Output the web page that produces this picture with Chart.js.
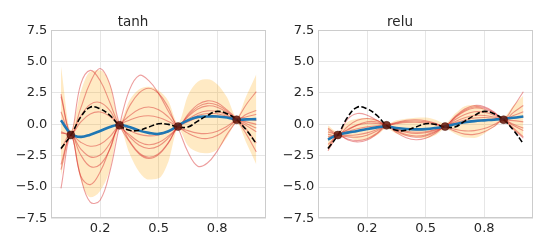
<!DOCTYPE html>
<html>
<head>
<meta charset="utf-8">
<script src="https://cdn.jsdelivr.net/npm/chart.js@4.4.1/dist/chart.umd.min.js"></script>
<style>
  html, body { margin: 0; padding: 0; background: #fff; }
  #wrap { position: relative; width: 548px; height: 249px; }
  canvas { position: absolute; top: 0; }
</style>
</head>
<body>
<div id="wrap">
  <canvas id="tanhChart" width="274" height="249" style="left:0px"></canvas>
  <canvas id="reluChart" width="274" height="249" style="left:267px"></canvas>
</div>
<script>
// x grid of the curves
var xs = [0.083, 0.125, 0.167, 0.208, 0.25, 0.292, 0.333, 0.375, 0.417, 0.458, 0.5,
          0.542, 0.583, 0.625, 0.667, 0.708, 0.75, 0.792, 0.833, 0.875, 0.917];

// observed points (same in both panels)
var obsX = [0.125, 0.333, 0.583, 0.833];
var obsY = [-0.85, -0.08, -0.18, 0.37];

// true function (black dashed)
var trueY = [-1.92, -0.87, 0.58, 1.37, 1.24, 0.71, -0.08, -0.47, -0.47, -0.21, 0.05,
             0.0, -0.21, -0.21, 0.26, 0.71, 1.03, 0.84, 0.37, -0.47, -1.53];

// tanh panel
var tanhMean = [0.32, -0.74, -1.0, -0.82, -0.53, -0.21, -0.03, -0.21, -0.5, -0.68, -0.76,
                -0.55, -0.1, 0.32, 0.58, 0.63, 0.63, 0.55, 0.37, 0.4, 0.42];
var tanhUpper = [4.6, -0.5, 2.6, 4.2, 4.3, 3.2, 0.2, 1.9, 2.8, 3.0, 2.7,
                 1.85, 0.1, 2.3, 3.4, 3.6, 3.2, 2.15, 0.6, 2.3, 4.0];
var tanhLower = [-4.1, -1.0, -4.4, -5.8, -5.3, -3.6, -0.3, -2.3, -3.8, -4.4, -4.3,
                 -2.95, -0.35, -1.7, -2.2, -2.3, -2.0, -1.05, 0.1, -1.5, -3.2];
var tanhSamples = [
  [2.4, -0.7, 3.19, 4.3, 3.49, 1.72, -0.1, -0.82, -1.4, -1.62, -1.45, -0.93, -0.25, 0.6, 1.22, 1.47, 1.37, 0.95, 0.35, -0.1, -0.6],
  [1.0, -0.85, 1.27, 3.34, 4.45, 3.16, 0.0, -1.37, -2.36, -2.72, -2.41, -1.48, -0.15, 0.3, 0.7, 0.87, 0.85, 0.65, 0.4, 0.4, 0.3],
  [-5.1, -0.9, -4.19, -6.2, -6.05, -3.74, -0.1, 2.73, 3.9, 3.48, 2.45, 1.02, -0.3, -2.2, -3.33, -3.08, -2.13, -0.8, 0.3, 1.6, 2.6],
  [2.2, -0.75, 0.65, 1.59, 1.74, 1.1, -0.05, 1.43, 2.51, 2.88, 2.46, 1.32, -0.15, 0.8, 1.57, 1.87, 1.72, 1.15, 0.45, -0.4, -1.5],
  [-0.6, -0.8, 0.18, 0.83, 0.98, 0.63, -0.05, -0.97, -1.67, -1.92, -1.72, -1.08, -0.2, 0.4, 0.87, 1.07, 1.02, 0.75, 0.35, 0.8, 1.1],
  [-3.2, -0.85, -1.95, -2.59, -2.44, -1.5, -0.1, 0.68, 1.2, 1.38, 1.16, 0.57, -0.2, -0.5, -0.7, -0.73, -0.55, -0.15, 0.3, 0.05, -0.3],
  [-3.6, -0.8, -2.42, -3.35, -3.2, -1.97, -0.05, -0.47, -0.8, -0.92, -0.85, -0.58, -0.25, 0.7, 1.39, 1.67, 1.54, 1.05, 0.35, -0.8, -2.2],
  [-2.0, -0.8, -4.09, -4.8, -3.79, -1.92, -0.1, -1.32, -2.28, -2.62, -2.33, -1.43, -0.2, 0.2, 0.52, 0.67, 0.67, 0.55, 0.35, 0.2, 0.0],
  [-0.7, -0.8, -1.42, -1.74, -1.59, -0.97, -0.05, 0.33, 0.6, 0.68, 0.55, 0.22, -0.2, -0.7, -1.04, -1.13, -0.89, -0.35, 0.35, 0.6, 0.8]
];

// relu panel
var reluMean = [-1.21, -0.82, -0.66, -0.53, -0.37, -0.24, -0.16, -0.29, -0.37, -0.4, -0.38,
                -0.29, -0.16, 0.0, 0.16, 0.26, 0.32, 0.37, 0.45, 0.53, 0.63];
var reluUpper = [-0.1, -0.6, 0.2, 0.45, 0.53, 0.37, 0.02, 0.32, 0.45, 0.53, 0.55,
                 0.37, 0.08, 0.84, 1.45, 1.55, 1.24, 0.71, 0.62, 1.5, 2.3];
var reluLower = [-2.1, -1.05, -1.0, -1.26, -1.2, -0.87, -0.35, -0.74, -0.95, -1.05, -1.1,
                 -0.87, -0.4, -0.74, -1.05, -1.08, -0.74, -0.21, 0.18, -0.47, -1.0];
var reluSamples = [
  [-0.4, -0.8, 0.42, 0.86, 0.73, 0.33, -0.05, -0.4, -0.63, -0.73, -0.67, -0.46, -0.15, 0.56, 1.13, 1.4, 1.32, 0.93, 0.4, 1.4, 2.6],
  [-0.8, -0.9, -0.17, 0.32, 0.47, 0.3, -0.1, -0.25, -0.37, -0.43, -0.41, -0.31, -0.2, 0.61, 1.22, 1.5, 1.41, 0.98, 0.35, 0.95, 1.5],
  [-1.9, -0.85, -1.23, -1.4, -1.25, -0.76, -0.1, 0.15, 0.33, 0.37, 0.29, 0.09, -0.2, 0.36, 0.78, 1.0, 0.97, 0.73, 0.35, -0.3, -1.0],
  [-1.2, -0.85, -0.4, -0.06, 0.09, 0.07, -0.05, -0.65, -1.07, -1.23, -1.11, -0.71, -0.15, 0.11, 0.35, 0.5, 0.54, 0.48, 0.4, 0.7, 1.0],
  [-0.3, -0.8, -1.0, -1.02, -0.87, -0.53, -0.08, 0.05, 0.15, 0.17, 0.11, -0.01, -0.18, 0.51, 1.04, 1.3, 1.23, 0.88, 0.38, 0.3, 0.2],
  [-1.6, -0.9, -0.58, -0.35, -0.2, -0.11, -0.08, -0.5, -0.81, -0.93, -0.85, -0.56, -0.2, -0.39, -0.52, -0.5, -0.33, -0.02, 0.33, -0.1, -0.5],
  [-1.0, -0.85, -0.88, -0.83, -0.68, -0.41, -0.08, -0.35, -0.55, -0.63, -0.59, -0.41, -0.18, 0.21, 0.52, 0.7, 0.71, 0.58, 0.37, 0.5, 0.6],
  [-2.1, -0.9, -0.46, -0.06, 0.21, 0.19, -0.1, 0.1, 0.24, 0.27, 0.2, 0.04, -0.2, -0.54, -0.78, -0.8, -0.59, -0.17, 0.35, -0.4, -1.1],
  [-0.6, -0.85, -1.17, -1.3, -1.15, -0.7, -0.08, -0.55, -0.89, -1.03, -0.93, -0.61, -0.18, 0.01, 0.17, 0.3, 0.36, 0.38, 0.37, 0.0, -0.3]
];

// axis ticks
var xTickValues = [0.25, 0.5, 0.75];
var xTickLabels = ['0.2', '0.5', '0.8'];
var yTickValues = [-7.5, -5, -2.5, 0, 2.5, 5, 7.5];
var yTickLabels = ['\u22127.5', '\u22125.0', '\u22122.5', '0.0', '2.5', '5.0', '7.5'];

var FONT = 'DejaVu Sans';
var TEXT = '#262626';

function pts(ys, xv) {
    xv = xv || xs;
    return xv.map(function (x, i) { return {x: x, y: ys[i]}; });
}

// light grey frame on all four sides, like the matplotlib spines
var framePlugin = {
    id: 'frame',
    afterDraw: function (chart) {
        var a = chart.chartArea;
        var ctx = chart.ctx;
        ctx.save();
        ctx.strokeStyle = '#cccccc';
        ctx.lineWidth = 1;
        ctx.strokeRect(Math.round(a.left) + 0.5, Math.round(a.top) + 0.5,
            Math.round(a.right - a.left) - 1, Math.round(a.bottom - a.top) - 1);
        ctx.restore();
    }
};

function makeChart(id, title, mean, upper, lower, samples) {
    var datasets = [];

    datasets.push({
        data: pts(obsY, obsX), showLine: false, pointRadius: 4,
        pointBackgroundColor: 'rgba(100,22,10,0.85)', pointBorderColor: 'rgba(70,12,5,0.85)',
        pointBorderWidth: 0.5, order: 0
    });
    datasets.push({
        data: pts(trueY), borderColor: '#000000', borderWidth: 1.6, borderDash: [5.5, 2.4],
        pointRadius: 0, tension: 0.4, order: 1
    });
    datasets.push({
        data: pts(mean), borderColor: '#1f77b4', borderWidth: 2.6,
        pointRadius: 0, tension: 0.4, order: 2
    });
    samples.forEach(function (s) {
        datasets.push({
            data: pts(s), borderColor: 'rgba(214,39,40,0.45)', borderWidth: 1.1,
            pointRadius: 0, tension: 0.4, order: 3
        });
    });
    datasets.push({
        data: pts(upper), borderWidth: 0, pointRadius: 0, cubicInterpolationMode: 'monotone',
        fill: '+1', backgroundColor: 'rgba(255,165,0,0.23)', order: 4
    });
    datasets.push({
        data: pts(lower), borderWidth: 0, pointRadius: 0, cubicInterpolationMode: 'monotone',
        fill: false, order: 5
    });

    return new Chart(document.getElementById(id), {
        type: 'line',
        data: {datasets: datasets},
        options: {
            responsive: false,
            animation: false,
            events: [],
            layout: {padding: {top: 0, right: 8, left: 0, bottom: 0}},
            plugins: {
                legend: {display: false},
                tooltip: {enabled: false},
                title: {
                    display: true, text: title, color: TEXT,
                    font: {family: FONT, size: 13.5, weight: 'normal'},
                    padding: {top: 14, bottom: 0}
                }
            },
            scales: {
                x: {
                    type: 'linear', min: 1 / 24, max: 23 / 24,
                    afterBuildTicks: function (scale) {
                        scale.ticks = xTickValues.map(function (v) { return {value: v}; });
                    },
                    afterFit: function (scale) { scale.height = 30.5; },
                    grid: {color: '#e6e6e6', lineWidth: 1, drawTicks: false},
                    border: {display: false},
                    ticks: {
                        color: TEXT, font: {family: FONT, size: 13}, padding: 2, maxRotation: 0,
                        callback: function (v) {
                            var i = xTickValues.indexOf(v);
                            return i < 0 ? '' : xTickLabels[i];
                        }
                    }
                },
                y: {
                    min: -7.5, max: 7.5,
                    afterBuildTicks: function (scale) {
                        scale.ticks = yTickValues.map(function (v) { return {value: v}; });
                    },
                    afterFit: function (scale) { scale.width = 51.3; },
                    grid: {color: '#e6e6e6', lineWidth: 1, drawTicks: false},
                    border: {display: false},
                    ticks: {
                        color: TEXT, font: {family: FONT, size: 13}, padding: 4,
                        callback: function (v) {
                            var i = yTickValues.indexOf(v);
                            return i < 0 ? '' : yTickLabels[i];
                        }
                    }
                }
            }
        },
        plugins: [framePlugin]
    });
}

makeChart('tanhChart', 'tanh', tanhMean, tanhUpper, tanhLower, tanhSamples);
makeChart('reluChart', 'relu', reluMean, reluUpper, reluLower, reluSamples);
</script>
</body>
</html>
